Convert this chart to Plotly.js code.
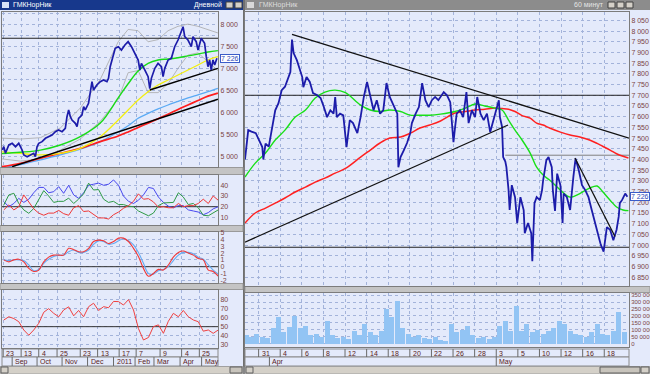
<!DOCTYPE html>
<html><head><meta charset="utf-8">
<script src="https://cdn.plot.ly/plotly-3.0.1.min.js"></script>
<style>html,body{margin:0;padding:0;background:#d4d0c8;overflow:hidden}</style>
</head><body><div id="chart" style="width:650px;height:374px"></div>
<script>
// ================= LEFT WINDOW (daily, Aug 2010 - May 2011) =================
const leftDays = [-0.8,0.5,1.9,4.7,7.5,10.3,13,15.8,17.2,20,
  22.8,25.5,26.9,28.3,29.7,32.5,35.3,38,40.8,43.6,
  46.3,49.2,51.9,53.3,54.7,56.1,57.5,60.3,61.7,63,
  65.8,67.2,68.6,71.3,72.8,74.2,75.5,78.3,81.1,83.8,
  86.7,88,89.4,90.8,92.2,93.6,96.3,98.8,101.7,104.4,
  107.2,110,112.8,114.2,115.5,118.3,121.1,122.5,123.8,126.7,
  129.4,132.2,133.6,135,137.8,140.5,143.3,146.1,148.8,150.3,
  151.7,154.4,157.2,158.6,161.3,162.8,165.5,168.3,169.7,171.1,
  172.5,173.8,175.3,176.7,178.6];
const leftPrice = [5152,5226,5077,5265,5303,5226,5303,5152,5038,5000,
  5038,5077,5000,5226,5303,5340,5416,5453,5491,5566,
  5604,5566,5642,5905,6057,5905,5830,5756,5680,5868,
  5943,6131,6057,6208,6509,6697,6509,6622,6697,6735,
  6697,6773,7036,7188,7339,7452,7489,7414,7527,7602,
  7489,7339,7188,6962,7112,6962,6811,6540,6773,7000,
  7112,7036,6811,7000,7188,7226,7489,7640,7828,7941,
  7715,7640,7489,7715,7602,7414,7678,7564,7263,7036,
  7188,6962,7188,7075,7226];

const leftMaDays   = [-1,14.4,31.1,47.75,64.4,81.1,96.1,104.4,112.75,121.1,129.4,137.75,146.1,154.4,162.75,171.1,179.4];
const leftMaGreen  = [5070,5100,5150,5265,5453,5760,6330,6650,6940,7110,7188,7210,7240,7280,7320,7370,7400];
const leftMaYellow = [5110,5075,5040,5077,5190,5450,5830,6057,6283,6471,6622,6735,6848,6962,7075,7188,7263];
const leftMaRed    = [4774,4850,4964,5077,5190,5340,5470,5560,5660,5760,5860,5960,6070,6170,6270,6370,6440];
const leftMaBlue   = [4740,4820,4930,5040,5170,5340,5560,5700,5870,5980,6080,6170,6250,6330,6400,6470,6545];
const leftBandUp   = [5420,5400,5430,5650,6100,6750,7600,7880,7850,7600,7650,7850,7950,8000,7950,7880,7800];
const leftBandDn   = [4950,4900,4950,5150,5400,5800,6300,6900,6950,6450,6450,6650,7000,7300,7350,7150,6950];

const leftTrendLongDays  = [7.5, 179.4];
const leftTrendLongVals  = [4774, 6300];
const leftTrendShortDays = [122.5, 179.4];
const leftTrendShortVals = [6509, 7000];
const leftResistance = 7680;
const leftRange = [-1, 179.5];

// oscillators (same day grid)
const oscDays = [0.5,4.7,8.9,13.0,17.2,21.4,25.5,29.7,33.9,38.0,
  42.2,46.4,50.5,54.7,58.9,63.0,67.2,71.4,75.5,79.7,
  83.9,88.0,92.2,96.4,100.5,104.7,108.9,113.0,117.2,121.4,
  125.5,129.7,133.9,138.0,142.2,146.4,150.5,154.7,158.9,163.0,
  167.2,171.4,175.5,179.7];
const adxBlue  = [24.7,20,23,27.8,24,27,33,38,38,33, 34,38.7,32.5,40,31,27.8,33,40,41,42,
  40,41,45,40,30,25,23,26,31,38, 37,29,24,20.5,19,21,21,17,16,15, 12.5,14.5,18,20];
const adxGreen = [21.6,31,32.5,23,17,13.8,18.3,26,35,30, 24,25,25,28,23,27,32,42,35.6,36,
  27,24,25,22,22,20.5,20,16,13.5,11.5, 14,21,23.5,23.5,24,33,29,22,23,19, 12,11.5,14.5,17];
const adxRed   = [17,21.6,17,20,31,24,18,14,12,14, 14,16.5,13.5,12,19,21,15.5,16,12.5,9.5,
  9.5,8.5,12.5,15,18.5,21,25,32,27,27.5, 24.5,19.5,20,19,19,23,20,21,21,23, 27,23,30,26];
const adxLevel = 20;
const macdRed  = [1.0,0.7,1.0,1.1,0.7,-0.25,-0.7,-0.5,0.7,1.4, 1.7,1.7,1.7,2.7,2.5,2.2,2.2,2.7,3.7,3.9,
  3.8,3.4,3.7,4.2,4.2,3.7,2.7,1.5,-0.25,-1.4, -1.0,-0.4,-0.5,0.25,1.4,2.1,2.3,2.0,1.7,1.2, 1.0,-0.5,-0.7,-1.4];
const macdBlue = [1.0,0.9,1.0,1.0,0.9,0.25,-0.6,-0.4,0.5,1.1, 1.5,1.7,1.7,2.2,2.45,2.1,2.1,2.45,3.3,3.8,
  3.7,3.3,3.4,3.8,4.1,3.8,3.2,2.1,0.5,-1.0, -1.1,-0.6,-0.4,0,0.9,1.7,2.1,2.1,1.9,1.4, 1.1,0.25,-0.5,-1.1];
const macdLevel = 0;
const rsiRed = [57.4,61,59,55.5,46.3,40.5,46.3,53.7,66,70, 64.8,61,68.5,72,62,68,61,72.2,76,68,
  72.2,71,78,77.8,74,80,68.5,48,35.2,38, 50,52,42.6,56,64.8,61,68,61,57.4,55.5, 45,46.3,42.6,46.3];
const rsiLevel = 50;

const leftTickDays   = [0,15,29.7,45,64.4,78.9,96.9,111.1,131.1,149.1,163.9];
const leftTickLabels = ['23','13','4','25','23','13','17','7','9','4','25'];
const leftMonthDays   = [7.5,28.3,49.2,70.5,92.2,110.2,126,147.8,165.8];
const leftMonthLabels = ['Sep','Oct','Nov','Dec','2011','Feb','Mar','Apr','May'];

// ================= RIGHT WINDOW (60 min, Mar 31 - May 19 2011) =================
const rightDays = [-1.6,-1.3,-1.0,-0.6,-0.3,0.0,0.1,0.3,0.6,0.9,
  1.2,1.5,1.8,2.1,2.4,2.6,2.75,2.9,3.2,3.4,
  3.7,3.8,4.1,4.4,4.7,5.1,5.4,5.7,6.0,6.3,
  6.6,6.75,6.9,7.2,7.5,7.8,8.1,8.4,8.8,9.1,
  9.4,9.7,10.0,10.3,10.6,10.9,11.2,11.5,11.8,12.1,
  12.5,12.6,12.8,13.1,13.4,13.7,13.85,14.2,14.5,14.8,
  15.1,15.4,15.7,16.0,16.3,16.8,17.1,17.4,17.7,17.85,
  18.0,18.3,18.6,18.9,19.1,19.4,19.7,19.9,20.2,20.5,
  20.8,21.1,21.4,21.7,21.9,22.0,22.2,22.3,22.5,22.6,
  22.8,22.9,23.1,23.4,23.6,23.9,24.2,24.3,24.6,24.9,
  25.0,25.2,25.4,25.7,25.9,26.0,26.3,26.5,26.8,26.9,
  27.1,27.3,27.6,27.8,27.9,28.2,28.5,28.8,29.0,29.3,
  29.6,29.9,30.2,30.5,30.8,31.0,31.3,31.4,31.6,31.9,
  32.2,32.5,32.8,33.0,33.1,33.3,33.6,33.8];
const rightPrice = [7400,7537,7530,7523,7490,7458,7400,7474,7460,7537,
  7630,7663,7724,7740,7785,7808,7960,7897,7864,7832,
  7785,7738,7785,7762,7710,7700,7687,7645,7598,7630,
  7614,7692,7598,7614,7606,7458,7584,7570,7523,7598,
  7692,7762,7692,7630,7677,7614,7630,7757,7692,7660,
  7614,7364,7411,7443,7477,7523,7570,7614,7645,7757,
  7677,7645,7677,7692,7677,7715,7700,7668,7481,7551,
  7614,7630,7598,7715,7570,7630,7598,7692,7614,7584,
  7614,7528,7584,7630,7677,7598,7552,7411,7390,7364,
  7257,7164,7280,7224,7103,7224,7164,7056,7103,7056,
  6925,7196,7224,7210,7257,7303,7397,7411,7364,7257,
  7160,7334,7280,7103,7241,7224,7164,7319,7404,7350,
  7280,7257,7224,7164,7103,7056,7009,6994,6970,7084,
  7072,7023,7072,7134,7196,7210,7241,7226];

const rightMaDays  = [-1.6,-0.65,0.3,1.2,2.1,3.05,4.0,4.9,5.8,6.75,7.7,9.1,10.0,10.9,11.8,12.8,13.7,14.6,15.5,16.5,
  17.85,18.8,19.7,20.6,21.55,22.2,22.8,23.4,24.05,24.8,25.4,26.0,26.6,27.6,28.5,29.4,30.3,31.0,31.5,32.2,32.8,33.4,33.9];
const rightMaGreen = [7318,7383,7430,7491,7537,7598,7631,7687,7715,7724,7712,7654,7631,7624,7631,7624,7607,7607,7607,7612,
  7624,7640,7659,7650,7640,7631,7584,7537,7491,7430,7364,7327,7304,7257,7224,7241,7266,7276,7250,7210,7178,7164,7161];
const rightMaRed   = [7103,7150,7173,7196,7220,7248,7271,7294,7313,7336,7358,7411,7444,7477,7500,7505,7523,7547,7561,7580,
  7617,7624,7631,7635,7640,7638,7635,7624,7605,7593,7570,7561,7547,7528,7514,7505,7491,7475,7462,7444,7427,7415,7407];

const rightTrendDownDays = [2.75, 33.95];
const rightTrendDownVals = [7985, 7500];
const rightTrendUpDays   = [-1.6, 22.75];
const rightTrendUpVals   = [7014, 7561];
const rightShortDays     = [28.95, 32.65];
const rightShortVals     = [7407, 7040];
const rightGreyDays      = [22.5, 33.95];
const rightGreyLevel     = 7420;
const rightUpperLevel    = 7700;
const rightLowerLevel    = 6990;
const rightRange = [-1.6, 33.95];

// volume, thousands of shares, one bar per half trading day from day -1.5
const volumeK = [60,45,70,50,40,110,190,80,120,200,
  110,130,60,70,50,160,60,40,50,30,
  90,60,140,80,60,90,250,190,310,110,
  70,50,60,40,30,50,25,20,140,80,
  100,130,60,40,50,30,45,130,160,90,
  270,90,140,80,100,70,90,110,160,140,
  90,70,60,50,80,140,70,60,90,230,
  80];
const VOL_START = -1.5, VOL_STEP = 0.5;

const rightTickDays   = [0,2,4,6,8,10,12,14,16,18,20,22,24,26,28,30,32];
const rightTickLabels = ['31','4','6','8','12','14','18','20','22','26','28','3','5','10','12','16','18'];
const rightMonthDays   = [1,22];
const rightMonthLabels = ['Apr','May'];
const RIGHT_DAY_OFFSET = -0.34;

// ================= helpers =================
const W = 650, H = 374;
const dx = (a,b) => [a/W, b/W];
const dy = (top,bot) => [1-bot/H, 1-top/H];
const fx = p => p/W, fy = p => 1-p/H;
const fmt = v => String(v).replace(/\B(?=(\d{3})+(?!\d))/g, ' ');
const FONT = 'Liberation Sans, Arial, sans-serif';
const BG = '#e4eafb', GRID = '#a3b3da', LABEL = '#7a4444';

function ln(x, y, color, width, xa, ya, extra) {
  return Object.assign({type:'scatter', mode:'lines', x:x, y:y, xaxis:xa, yaxis:ya,
    line:{color:color, width:width}, hoverinfo:'skip', showlegend:false}, extra||{});
}
function hl(range, level, color, width, xa, ya) {
  return ln([range[0], range[1]], [level, level], color, width, xa, ya);
}

const traces = [
  // left price panel
  ln(leftMaDays, leftBandUp, '#a8a8a8', 0.8, 'x', 'y'),
  ln(leftMaDays, leftBandDn, '#a8a8a8', 0.8, 'x', 'y'),
  hl(leftRange, leftResistance, '#222', 1, 'x', 'y'),
  ln(leftMaDays, leftMaBlue, '#5aaaf5', 1.3, 'x', 'y', {line:{color:'#5aaaf5',width:1.3,shape:'spline'}}),
  ln(leftMaDays, leftMaRed, '#ff1e1e', 1.7, 'x', 'y', {line:{color:'#ff1e1e',width:1.7,shape:'spline'}}),
  ln(leftMaDays, leftMaYellow, '#f2ee10', 1.3, 'x', 'y', {line:{color:'#f2ee10',width:1.3,shape:'spline'}}),
  ln(leftMaDays, leftMaGreen, '#18dc18', 1.4, 'x', 'y', {line:{color:'#18dc18',width:1.4,shape:'spline'}}),
  ln(leftTrendLongDays, leftTrendLongVals, '#000', 1.4, 'x', 'y'),
  ln(leftTrendShortDays, leftTrendShortVals, '#000', 1.4, 'x', 'y'),
  ln(leftDays, leftPrice, '#1c1caa', 1.7, 'x', 'y'),
  // ADX / DMI
  hl(leftRange, adxLevel, '#333', 1, 'x2', 'y2'),
  ln(oscDays, adxBlue, '#4848f0', 1, 'x2', 'y2'),
  ln(oscDays, adxGreen, '#2e9a46', 1, 'x2', 'y2'),
  ln(oscDays, adxRed, '#f03838', 1, 'x2', 'y2'),
  // MACD
  hl(leftRange, macdLevel, '#333', 1, 'x3', 'y3'),
  ln(oscDays, macdBlue, '#66aaf2', 1.1, 'x3', 'y3', {line:{color:'#66aaf2',width:1.1,shape:'spline'}}),
  ln(oscDays, macdRed, '#f03838', 1.1, 'x3', 'y3', {line:{color:'#f03838',width:1.1,shape:'spline'}}),
  // RSI
  hl(leftRange, rsiLevel, '#333', 1, 'x4', 'y4'),
  ln(oscDays, rsiRed, '#f04040', 1, 'x4', 'y4'),
  // right price panel
  hl(rightRange, rightUpperLevel, '#222', 1, 'x5', 'y5'),
  hl(rightRange, rightLowerLevel, '#222', 1, 'x5', 'y5'),
  ln(rightGreyDays, [rightGreyLevel, rightGreyLevel], '#808080', 1, 'x5', 'y5'),
  ln(rightMaDays, rightMaRed, '#ff2020', 1.5, 'x5', 'y5', {line:{color:'#ff2020',width:1.5,shape:'spline'}}),
  ln(rightMaDays, rightMaGreen, '#18e018', 1.4, 'x5', 'y5', {line:{color:'#18e018',width:1.4,shape:'spline'}}),
  ln(rightDays, rightPrice, '#1c1caa', 1.8, 'x5', 'y5'),
  ln(rightTrendDownDays, rightTrendDownVals, '#111', 1.3, 'x5', 'y5'),
  ln(rightTrendUpDays, rightTrendUpVals, '#111', 1.3, 'x5', 'y5'),
  ln(rightShortDays, rightShortVals, '#111', 1.3, 'x5', 'y5'),
  // volume
  {type:'bar', x: volumeK.map((_, i) => VOL_START + i*VOL_STEP), y: volumeK.map(v => v*1000),
   xaxis:'x6', yaxis:'y6', width:0.46, marker:{color:'#92c4f4', line:{width:0}},
   hoverinfo:'skip', showlegend:false}
];

function yAxis(domain, range, tickvals, ticktext, anchor, size) {
  return {domain:domain, range:range, anchor:anchor, side:'right', tickmode:'array',
    tickvals:tickvals, ticktext:ticktext, ticks:'', showgrid:true, gridcolor:GRID, griddash:'dot',
    gridwidth:1, zeroline:false, showline:true, mirror:true, linecolor:'#7c7c7c', linewidth:1,
    tickfont:{family:FONT, size:size||7, color:LABEL}, fixedrange:true};
}
function xAxis(domain, range, tickvals, anchor, matches) {
  const a = {domain:domain, range:range, anchor:anchor, tickmode:'array', tickvals:tickvals,
    showticklabels:false, ticks:'', showgrid:true, gridcolor:GRID, griddash:'dot', gridwidth:1,
    zeroline:false, showline:true, mirror:true, linecolor:'#7c7c7c', linewidth:1, fixedrange:true};
  if (matches) a.matches = matches;
  return a;
}

const lpTicks = [4750,5000,5250,5500,5750,6000,6250,6500,6750,7000,7250,7500,7750,8000,8250];
const rpTicks = [6850,6900,6950,7000,7050,7100,7150,7200,7250,7300,7350,7400,7450,7500,7550,7600,7650,7700,7750,7800,7850,7900,7950,8000,8050];
const volTicks = [0,50000,100000,150000,200000,250000,300000,350000];
const rightGridDays = rightTickDays.map(d => d + RIGHT_DAY_OFFSET);

const LX = dx(2,218), RX = dx(245,629);
const layout = {
  width:W, height:H, margin:{l:0,r:0,t:0,b:0,pad:0},
  paper_bgcolor:'#d4d0c8', plot_bgcolor:BG, showlegend:false, bargap:0,
  font:{family:FONT, size:7},
  xaxis:  xAxis(LX, leftRange, leftTickDays, 'y'),
  yaxis:  yAxis(dy(12,167), [4767,8274], lpTicks, lpTicks.map(v => v%500===0 ? fmt(v) : ''), 'x'),
  xaxis2: xAxis(LX, leftRange, leftTickDays, 'y2', 'x'),
  yaxis2: yAxis(dy(175,225), [2.9,49.6], [10,20,30,40], ['10','20','30','40'], 'x2'),
  xaxis3: xAxis(LX, leftRange, leftTickDays, 'y3', 'x'),
  yaxis3: yAxis(dy(232,283), [-2.4,5.1], [-2,-1,0,1,2,3,4,5], ['-2','-1','0','1','2','3','4','5'], 'x3'),
  xaxis4: xAxis(LX, leftRange, leftTickDays, 'y4', 'x'),
  yaxis4: yAxis(dy(290,348), [26.3,90.7], [30,40,50,60,70,80], ['30','40','50','60','70','80'], 'x4'),
  xaxis5: xAxis(RX, rightRange, rightGridDays, 'y5'),
  yaxis5: yAxis(dy(12,286), [6809,8089], rpTicks, rpTicks.map(fmt), 'x5'),
  xaxis6: xAxis(RX, rightRange, rightGridDays, 'y6', 'x5'),
  yaxis6: yAxis(dy(293,347), [-25000,365000], volTicks, volTicks.map(fmt), 'x6', 6),
  shapes: [], annotations: []
};

const S = layout.shapes, A = layout.annotations;
function rect(x0,y0,x1,y1,fill,lineColor) {
  S.push({type:'rect', xref:'paper', yref:'paper', x0:fx(x0), x1:fx(x1), y0:fy(y1), y1:fy(y0),
    fillcolor:fill, line:{color:lineColor||fill, width:lineColor?1:0}, layer:'below'});
}
function text(t, x, y, color, anchor, size, extra) {
  A.push(Object.assign({text:t, xref:'paper', yref:'paper', x:fx(x), y:fy(y), xanchor:anchor||'left',
    yanchor:'middle', showarrow:false, font:{family:FONT, size:size||7, color:color}}, extra||{}));
}

// window clients
rect(0,10,243,374,BG);
rect(245,10,650,374,BG);
rect(243,0,245,374,'#6f6f6f');
// splitters
[[167.5,174.5],[225.5,231.5],[283.5,289.5]].forEach(s => rect(0,s[0],243,s[1],'#c4c4c4','#9a9a9a'));
rect(245,286.5,650,292.5,'#c4c4c4','#9a9a9a');
// title bars
rect(0,0,243,10,'#17388c');
rect(2,2,9,8,'#d8e4f8');
text('ГМКНорНик', 11, 5, '#ffffff', 'left', 7);
text('Дневной', 224, 5, '#ffffff', 'right', 7);
rect(226,2,233,8,'#d4d0c8','#404040'); rect(235,2,242,8,'#d4d0c8','#404040');
rect(245,0,650,10,'#8c8c8c');
rect(247,2,254,8,'#d8d8d8');
text('ГМКНорНик', 257, 5, '#dcdcdc', 'left', 7);
text('60 минут', 606, 5, '#e4e4e4', 'right', 7);
rect(608,2,615,8,'#d4d0c8','#404040'); rect(617,2,624,8,'#d4d0c8','#404040'); rect(626,2,633,8,'#d4d0c8','#404040');
// date rows
rect(2,349,218,357,BG,'#8a8a8a'); rect(2,357,218,366,BG,'#8a8a8a');
rect(245,349,629,357,BG,'#8a8a8a'); rect(245,357,629,366,BG,'#8a8a8a');
// scrollbars
rect(0,366.5,243,374,'#d4d0c8','#a0a0a0'); rect(1,367,8,373,'#d4d0c8','#606060'); rect(230,367,242,373,'#c8c4bc','#606060');
rect(245,366.5,650,374,'#d4d0c8','#a0a0a0'); rect(246,367,253,373,'#d4d0c8','#606060'); rect(600,367,640,373,'#c8c4bc','#606060'); rect(641,367,649,373,'#d4d0c8','#606060');

function dateRow(days, labels, xref, top, bot, offset) {
  days.forEach((d, i) => {
    S.push({type:'line', xref:xref, yref:'paper', x0:d+offset, x1:d+offset, y0:fy(bot), y1:fy(top),
      line:{color:'#6a6a6a', width:1}});
    A.push({text:labels[i], xref:xref, yref:'paper', x:d+offset, y:fy((top+bot)/2), xanchor:'left',
      yanchor:'middle', xshift:1, showarrow:false, font:{family:FONT, size:7, color:'#5a2222'}});
  });
}
dateRow(leftTickDays, leftTickLabels, 'x', 349, 357, 0);
dateRow(leftMonthDays, leftMonthLabels, 'x', 357, 366, 0);
dateRow(rightTickDays, rightTickLabels, 'x5', 349, 357, RIGHT_DAY_OFFSET);
dateRow(rightMonthDays, rightMonthLabels, 'x5', 357, 366, RIGHT_DAY_OFFSET);

// last price markers
const lastLeft = leftPrice[leftPrice.length-1], lastRight = rightPrice[rightPrice.length-1];
A.push({text:fmt(lastLeft), xref:'paper', yref:'y', x:fx(220), y:lastLeft, xanchor:'left', yanchor:'middle',
  showarrow:false, bgcolor:'#ffffff', bordercolor:'#3a5cc8', borderwidth:1, borderpad:0,
  font:{family:FONT, size:7, color:'#2a48b8'}});
A.push({text:fmt(lastRight), xref:'paper', yref:'y5', x:fx(630), y:lastRight, xanchor:'left', yanchor:'middle',
  showarrow:false, bgcolor:'#ffffff', bordercolor:'#3a5cc8', borderwidth:1, borderpad:0,
  font:{family:FONT, size:7, color:'#2a48b8'}});

Plotly.newPlot('chart', traces, layout, {staticPlot:true, displayModeBar:false});
</script></body></html>
